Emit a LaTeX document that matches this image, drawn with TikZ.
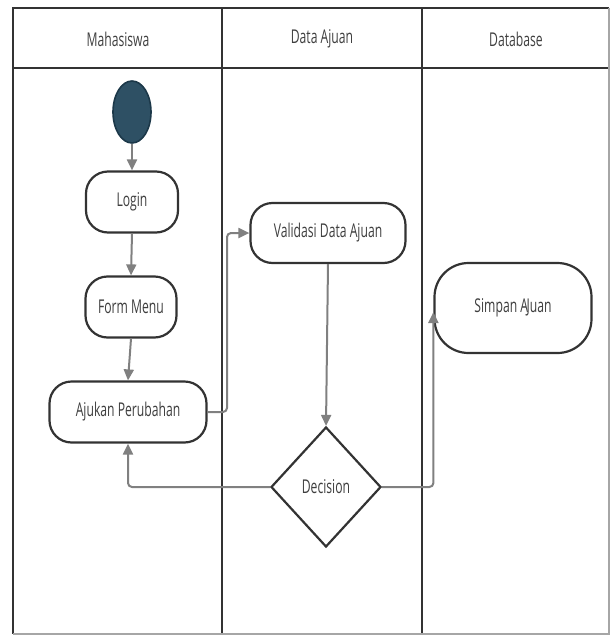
\documentclass[tikz,border=0pt]{standalone}
\usepackage{fontspec}
\newfontfamily\lucidfont[FakeStretch=0.64]{Open Sans}
\usetikzlibrary{shapes.geometric,arrows.meta}

\definecolor{lineDark}{HTML}{333333}
\definecolor{flowGray}{HTML}{808080}
\definecolor{textGray}{HTML}{3F3F3F}
\definecolor{startFill}{HTML}{2E5064}
\definecolor{startLine}{HTML}{1C3849}

\begin{document}
\begin{tikzpicture}[x=1pt,y=-1pt, font=\lucidfont\fontsize{19}{22}\selectfont, text=textGray,
    activity/.style={draw=lineDark, line width=2.2pt, fill=white, rounded corners=22pt, inner sep=0pt},
    decisionbox/.style={draw=lineDark, line width=2.2pt, fill=white, diamond, inner sep=0pt, minimum width=110pt, minimum height=120pt},
    flow/.style={draw=flowGray, line width=2pt, rounded corners=4pt, -{Triangle[width=10pt,length=11pt]}}]
\useasboundingbox (0,0) rectangle (610,635);
% swimlanes
\draw[lineDark, line width=2.6pt] (609,8) -- (13,8) -- (13,634);
\draw[lineDark, line width=2.6pt] (13,68) -- (609,68);
\draw[lineDark, line width=2.2pt] (222,8) -- (222,634);
\draw[lineDark, line width=2.2pt] (422,8) -- (422,634);
\draw[black!35, line width=1.2pt] (13,634) -- (609,634) -- (609,8);
\node (laneA) at (118,39) {Mahasiswa};
\node (laneB) at (322,39) {Data Ajuan};
\node (laneC) at (516,39) {Database};
% activities
\node[ellipse, draw=startLine, line width=1.6pt, fill=startFill, minimum width=38pt, minimum height=62pt, inner sep=0pt] (start) at (132,112) {};
\node[activity, minimum width=92pt, minimum height=61pt] (login) at (132,202) {Login};
\node[activity, minimum width=91pt, minimum height=61pt] (form) at (131,307) {Form Menu};
\node[activity, minimum width=157pt, minimum height=61pt] (ajukan) at (128,412) {Ajukan Perubahan};
\node[activity, minimum width=155pt, minimum height=60pt] (validasi) at (328,233) {Validasi Data Ajuan};
\node[decisionbox] (dec) at (326,487) {Decision};
\node[activity, minimum width=157pt, minimum height=90pt, rounded corners=34pt] (simpan) at (513,308) {Simpan A\kern-1.5ptJuan};
\coordinate (bendA) at (227,412);
% connectors
\draw[flow] (start.south) -- (login.north);
\draw[flow] (login.south) -- (form.north);
\draw[flow] (form.south) -- (ajukan.north);
\draw[flow] (ajukan.east) -- (bendA) |- (validasi.west);
\draw[flow] (validasi.south) -- (dec.north);
\draw[flow] (dec.west) -| (ajukan.south);
\draw[flow] (dec.east) -| ([yshift=-4pt]simpan.west);
\end{tikzpicture}
\end{document}
